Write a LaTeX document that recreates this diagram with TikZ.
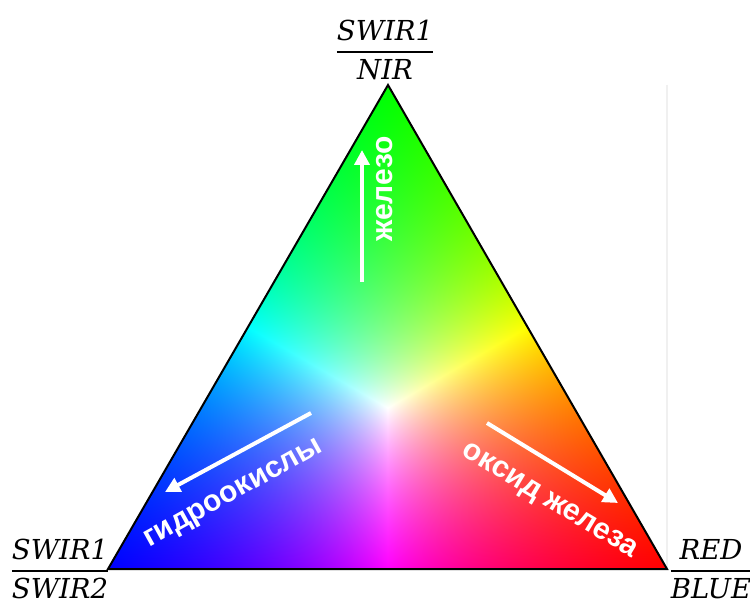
\documentclass[tikz,border=0pt]{standalone}
\usepackage{amsmath}
\usepackage{fontspec}
\newfontfamily\labfont{Liberation Sans}
\newfontfamily\fracfont{DejaVu Serif}
\usetikzlibrary{arrows.meta}
\pgfdeclarefunctionalshading{maxwell}{\pgfpointorigin}{\pgfpoint{100bp}{100bp}}{}{
 25 sub 50 div
 exch 25 sub 1 index 25 mul sub 50 div
 exch
 1 index 1 index add 1 exch sub
 2 index 2 index 2 copy lt {exch} if pop
 1 index 2 copy lt {exch} if pop
 1 exch div
 4 1 roll
 3 index mul 3 1 roll
 3 index mul 3 1 roll
 3 index mul 3 1 roll
 4 -1 roll pop
}
\newcommand{\ratiofrac}[2]{$\genfrac{}{}{0.75pt}{0}{\mbox{\fracfont\itshape #1}}{\mbox{\fracfont\itshape #2}}$}
\tikzset{
  warrow/.style={white, line width=4pt, -{Triangle[length=15pt,width=15pt]}},
  wlab/.style={text=white, inner sep=0pt, font=\labfont\bfseries\fontsize{30}{34}\selectfont},
  fraclab/.style={anchor=base, inner sep=0pt, scale=2.75},
  outline/.style={draw=black, line width=2pt}
}
\begin{document}
\begin{tikzpicture}[x=1pt,y=1pt]
\useasboundingbox (0,0) rectangle (750,603);
\fill[white] (0,0) rectangle (750,603);
% faint vertical line
\draw[gray!12, line width=1.2pt] (667,518) -- (667,34);
% triangle
\coordinate (bl) at (108,34);
\coordinate (br) at (667,34);
\coordinate (tp) at (388,518);
\shade[shading=maxwell] (bl) -- (br) -- (tp) -- cycle;
\draw[outline] (bl) -- (br) -- (tp) -- cycle;
% arrows
\coordinate (a1s) at (362,321);
\coordinate (a1e) at (362,453);
\coordinate (a2s) at (311,190);
\coordinate (a2e) at (165,111);
\coordinate (a3s) at (487,180);
\coordinate (a3e) at (618,100);
\draw[warrow] (a1s) -- (a1e);
\draw[warrow] (a2s) -- (a2e);
\draw[warrow] (a3s) -- (a3e);
% arrow labels
\node[wlab, rotate=90] (l1) at (385,414) {железо};
\node[wlab, rotate=29] (l2) at (234,108) {гидроокислы};
\node[wlab, rotate=-31] (l3) at (549,101) {оксид железа};
% corner labels
\node[fraclab] (ftop) at (385,544) {\ratiofrac{SWIR1}{NIR}};
\node[fraclab] (fleft) at (60,25) {\ratiofrac{SWIR1}{SWIR2}};
\node[fraclab] (fright) at (711,25) {\ratiofrac{RED}{BLUE}};
\end{tikzpicture}
\end{document}
